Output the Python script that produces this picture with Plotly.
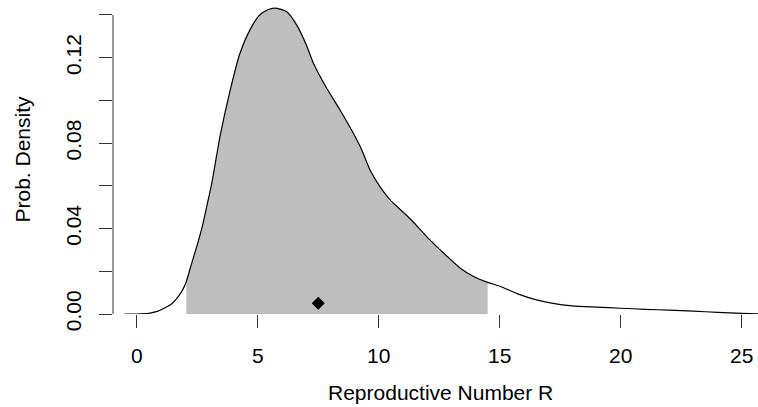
import plotly.graph_objects as go

# Density curve of reproductive number R
r_values = [-0.5, 0.0, 0.5, 0.85, 1.1, 1.4, 1.7, 1.93, 2.05, 2.27, 2.48, 2.69, 2.89, 3.1,
            3.45, 3.85, 4.25, 4.7, 5.1, 5.5, 5.8, 6.2, 6.6, 7.0, 7.3, 7.85, 8.4, 8.95,
            9.3, 9.64, 10.05, 10.47, 11.3, 12.0, 12.7, 13.4, 13.9, 14.5, 15.0, 15.8,
            16.4, 17.2, 18.0, 19.0, 20.0, 21.0, 22.0, 23.0, 24.0, 25.0, 25.7]
density = [0.0, 0.0, 0.0003, 0.0012, 0.0025, 0.0043, 0.0079, 0.0120, 0.0152, 0.0237,
           0.0316, 0.0401, 0.0502, 0.0612, 0.0836, 0.1042, 0.1215, 0.1335, 0.1402,
           0.1428, 0.1431, 0.1415, 0.1355, 0.1262, 0.1174, 0.1057, 0.0955, 0.0846,
           0.0768, 0.0674, 0.0596, 0.0534, 0.0446, 0.0360, 0.0283, 0.0212, 0.0177,
           0.0148, 0.0130, 0.0092, 0.0070, 0.0050, 0.0038, 0.0032, 0.0027, 0.0022,
           0.0018, 0.0013, 0.0008, 0.0003, 0.0001]

# Credible interval bounds and point estimate
ci_low, ci_high = 2.05, 14.5
point_x, point_y = 7.5, 0.005

x_ticks = [0, 5, 10, 15, 20, 25]
y_ticks = [0.00, 0.02, 0.04, 0.06, 0.08, 0.10, 0.12, 0.14]
y_tick_text = ["0.00", "", "0.04", "", "0.08", "", "0.12", ""]

FONT = "Liberation Sans, Arial, sans-serif"

shade_x = [x for x in r_values if ci_low <= x <= ci_high]
shade_y = [y for x, y in zip(r_values, density) if ci_low <= x <= ci_high]

fig = go.Figure()
fig.add_trace(go.Scatter(
    x=shade_x, y=shade_y, mode="lines", fill="tozeroy",
    fillcolor="#BEBEBE", line=dict(width=0, color="#BEBEBE", shape="spline", smoothing=0.6),
    hoverinfo="skip", showlegend=False))
fig.add_trace(go.Scatter(
    x=r_values, y=density, mode="lines",
    line=dict(color="black", width=1.2, shape="spline", smoothing=0.6),
    showlegend=False))
fig.add_trace(go.Scatter(
    x=[point_x], y=[point_y], mode="markers",
    marker=dict(symbol="diamond", size=10, color="black"),
    showlegend=False))

# y-axis line spanning only the tick range (R style)
fig.add_shape(type="line", xref="paper", yref="y", x0=0, x1=0,
              y0=min(y_ticks), y1=max(y_ticks), line=dict(color="#333", width=1))

fig.add_annotation(text="Reproductive Number R", xref="paper", yref="paper",
                   x=(440 - 113) / 645, y=0, xanchor="center", yanchor="middle",
                   yshift=-78, showarrow=False, font=dict(family=FONT, size=21, color="black"))
fig.add_annotation(text="Prob. Density", xref="paper", yref="paper",
                   x=0, y=0.5, xanchor="center", yanchor="middle", textangle=-90,
                   xshift=-91, showarrow=False, font=dict(family=FONT, size=21, color="black"))

fig.update_layout(
    width=758, height=407,
    margin=dict(l=113, r=0, t=5, b=93),
    plot_bgcolor="white", paper_bgcolor="white",
    font=dict(family=FONT, size=21, color="black"),
    xaxis=dict(range=[-0.98, 25.67], tickvals=x_ticks, ticks="outside", ticklen=13,
               tickcolor="#333", tickwidth=1, showline=False, showgrid=False,
               zeroline=False, ticklabelstandoff=10),
    yaxis=dict(range=[0, 0.14466], tickvals=y_ticks, ticktext=y_tick_text,
               ticks="outside", ticklen=13, tickcolor="#333", tickwidth=1,
               tickangle=-90, showline=False, showgrid=False, zeroline=False,
               ticklabelstandoff=10),
)

fig.write_html("out.html", config={"displayModeBar": False},
               post_script="document.body.style.margin='0';document.body.style.overflow='hidden';")
